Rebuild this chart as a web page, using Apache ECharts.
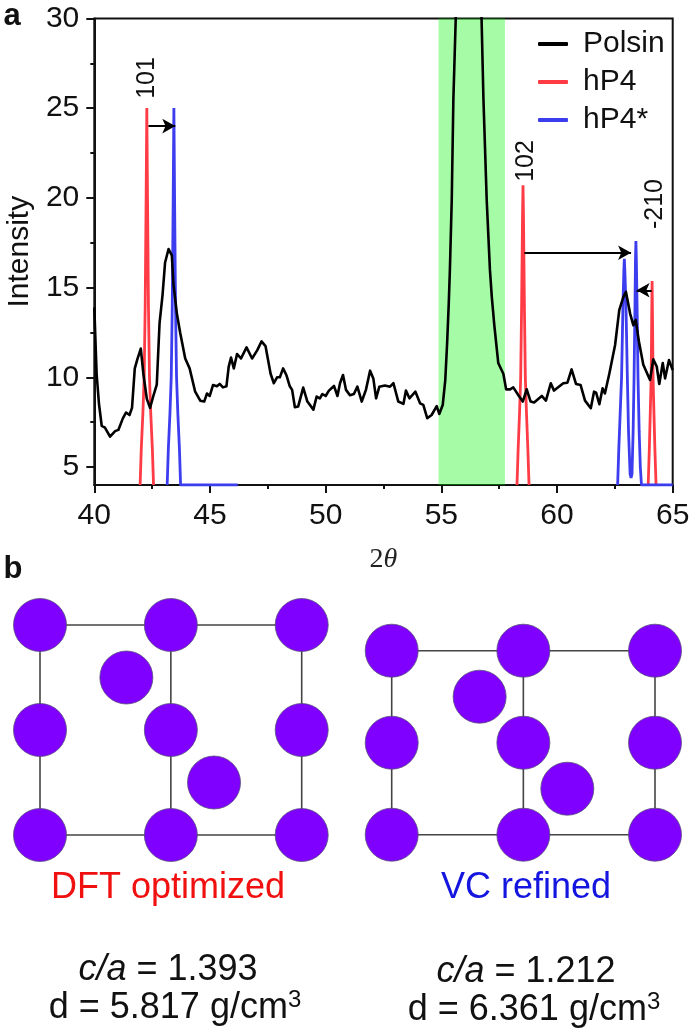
<!DOCTYPE html>
<html><head><meta charset="utf-8">
<style>html,body{margin:0;padding:0;background:#fff}#c{width:691px;height:1034px}</style>
<script src="https://cdn.jsdelivr.net/npm/echarts@6/dist/echarts.min.js"></script>
</head><body><div id="c"></div>
<script>
const polsin=[[40,13.9],[40.1,10.2],[40.2,8.55],[40.32,7.3],[40.46,7.2],[40.68,6.7],[40.9,7],[41.04,7.07],[41.23,7.7],[41.37,8.04],[41.52,7.9],[41.63,8.3],[41.75,10.5],[41.86,11],[42.01,11.6],[42.12,10.2],[42.27,8.8],[42.41,8.3],[42.56,9],[42.7,9.6],[42.82,13],[42.95,14.6],[43.06,16.4],[43.21,17.15],[43.35,16.8],[43.42,15.2],[43.57,13.55],[43.71,12.5],[43.93,11.05],[44.12,10.5],[44.36,9.2],[44.58,8.7],[44.75,8.65],[44.87,9.1],[44.99,8.96],[45.13,9.57],[45.3,9.5],[45.42,9.63],[45.56,9.44],[45.71,9.5],[45.81,10.6],[45.91,11.1],[46.03,10.5],[46.17,11.3],[46.34,11.05],[46.58,11.67],[46.82,11.05],[47.04,11.5],[47.23,12],[47.4,11.74],[47.62,10.2],[47.76,9.67],[47.9,10],[48.02,10],[48.16,10.5],[48.31,10.1],[48.45,9.5],[48.55,9.3],[48.67,8.33],[48.81,8.37],[49.03,9.43],[49.21,8.65],[49.47,8.2],[49.61,8.93],[49.75,8.83],[49.86,9.07],[50,8.96],[50.14,9.26],[50.36,9.52],[50.51,8.96],[50.62,9.67],[50.75,10.13],[50.88,9.3],[51.05,9],[51.22,9.07],[51.37,9.48],[51.56,8.65],[51.74,9.3],[51.92,10.37],[52.06,9.94],[52.18,8.83],[52.32,9.48],[52.56,9.54],[52.78,9.48],[52.93,9.67],[53.14,8.65],[53.36,8.52],[53.47,9.26],[53.62,8.83],[53.88,9.2],[54.08,8.55],[54.22,8.46],[54.39,7.72],[54.58,7.9],[54.8,8.4],[54.91,7.96],[55.06,8.46],[55.17,9.85],[55.25,11.9],[55.32,14.1],[55.37,16],[55.45,19.9],[55.52,25.5],[55.62,29.9],[55.69,33],[56.2,42],[56.67,33],[56.74,29.9],[56.82,25.5],[56.96,19.9],[57.1,16],[57.18,14.5],[57.29,12.9],[57.46,10.8],[57.68,10.2],[57.8,9.33],[57.97,9.33],[58.11,9.44],[58.33,9],[58.52,8.65],[58.69,9.33],[58.86,8.65],[59.01,8.6],[59.34,8.96],[59.52,8.7],[59.73,9.67],[59.87,9.26],[60.27,9.67],[60.45,9.7],[60.63,10.44],[60.82,9.63],[61.02,9.57],[61.21,8.7],[61.46,8.28],[61.6,9.2],[61.69,9.15],[61.83,8.5],[61.97,9.39],[62.07,9.1],[62.26,10.2],[62.51,11.8],[62.69,13.74],[62.87,14.48],[62.98,14.76],[63.16,13.55],[63.3,12.9],[63.4,13.2],[63.54,12],[63.73,10.7],[64.02,9.85],[64.16,11],[64.31,10.6],[64.42,9.63],[64.57,10.8],[64.67,9.94],[64.84,10.96],[65,10.4]];
const hP4=[[41.98,4],[42.03,6],[42.1,8],[42.155,10],[42.2,14],[42.24,20],[42.27,25],[42.3,20],[42.34,14],[42.385,10],[42.44,8],[42.51,6],[42.56,4],null,
 [58.27,4],[58.32,6],[58.38,8],[58.43,10],[58.47,14],[58.51,19],[58.53,20.7],[58.55,19],[58.59,14],[58.63,10],[58.68,8],[58.74,6],[58.79,4],null,
 [63.94,4],[63.99,6],[64.03,8],[64.07,10],[64.09,13],[64.11,15.37],[64.13,13],[64.15,10],[64.19,8],[64.23,6],[64.28,4]];
const hP4s=[[43.15,4],[43.2,6],[43.27,8],[43.325,10],[43.37,14],[43.41,20],[43.44,25],[43.47,20],[43.51,14],[43.555,10],[43.61,8],[43.68,6],[43.73,4],[46.2,4],null,
 [62.62,4],[62.67,6],[62.73,8],[62.79,10],[62.85,14],[62.89,16],[62.91,16.6],[62.93,16],[62.98,14],[63.04,10],[63.09,7],[63.16,4.6],[63.2,4.4],[63.24,4.6],[63.29,7],[63.33,10],[63.37,14],[63.39,16.5],[63.41,17.6],[63.43,16.5],[63.46,14],[63.5,10],[63.55,7],[63.6,5],[63.65,4],[65,4]];
const band=[54.88,57.75];
const arrows=[[[42.34,24],[43.5,24]],[[58.59,16.94],[63.2,16.94]],[[64.09,14.85],[63.44,14.85]]];
const yTicks=[5,10,15,20,25,30];
const yMinor=[7.5,12.5,17.5,22.5,27.5];
const atomsCols=[0,1,2];
const atomsRows=[0,1,2];
const innerLeft=[[0.66,0.5],[1.33,1.5]];
const innerRight=[[0.668,0.5],[1.334,1.5]];
const bonds=[[[0,0],[2,0]],[[0,2],[2,2]],[[0,0],[0,2]],[[1,0],[1,2]],[[2,0],[2,2]]];
const FONT='"Liberation Sans",Arial,sans-serif';

const lattice=[];atomsCols.forEach(c=>atomsRows.forEach(r=>lattice.push([c,r])));
function structure(idx,inner){
  const s=[];
  bonds.forEach(b=>s.push({type:'line',xAxisIndex:idx,yAxisIndex:idx,data:b,showSymbol:false,silent:true,z:3,clip:false,
    lineStyle:{color:'#444',width:1.6}}));
  s.push({type:'scatter',xAxisIndex:idx,yAxisIndex:idx,data:lattice.concat(inner),symbolSize:53,clip:false,z:4,silent:true,
    itemStyle:{color:'#7f00ff',borderColor:'#55507a',borderWidth:0.8,opacity:1}});
  return s;
}
const label=(text,x,y,extra)=>({type:'text',x,y,silent:true,style:Object.assign({text,font:'24px '+FONT,fill:'#111',align:'center',verticalAlign:'middle'},extra||{})});
const vlabel=(text,x,y)=>({type:'text',x,y,rotation:Math.PI/2,silent:true,style:{text,font:'25px '+FONT,fill:'#111',align:'center',verticalAlign:'middle'}});
const noteRich={i:{fontStyle:'italic',fontSize:36,fontFamily:FONT,fill:'#111'},n:{fontSize:36,fontFamily:FONT,fill:'#111'},s:{fontSize:24,fontFamily:FONT,fill:'#111',verticalAlign:'top',lineHeight:40}};
const note=(text,x,y)=>({type:'text',x,y,silent:true,style:{text,rich:noteRich,font:'36px '+FONT,fill:'#111',align:'center',verticalAlign:'middle'}});

const chart=echarts.init(document.getElementById('c'),null,{renderer:'canvas'});
chart.setOption({
  animation:false,backgroundColor:'#fff',
  legend:{data:['Polsin','hP4','hP4*'],orient:'vertical',left:538,top:29,itemWidth:30,itemHeight:4,icon:'roundRect',itemGap:8,
    textStyle:{fontFamily:FONT,fontSize:30,color:'#111',padding:[0,0,0,10]},selectedMode:false,padding:0},
  grid:[
    {left:94.3,top:18.4,width:578.4,height:466.6,outerBoundsMode:'none',show:true,borderColor:'#111',borderWidth:2,backgroundColor:'transparent'},
    {left:40,top:625,width:261.7,height:210,outerBoundsMode:'none'},
    {left:391.7,top:650.7,width:263.3,height:184,outerBoundsMode:'none'}
  ],
  xAxis:[
    {type:'value',gridIndex:0,min:40,max:65,interval:5,splitLine:{show:false},
     axisLine:{show:true,onZero:false,lineStyle:{color:'#111',width:2}},
     axisTick:{length:8,lineStyle:{color:'#111',width:2}},
     minorTick:{show:true,splitNumber:2,length:4,lineStyle:{color:'#111',width:2}},
     axisLabel:{fontFamily:FONT,fontSize:30,color:'#111',margin:16},
     name:'{a|2}{b|θ}',nameLocation:'middle',nameGap:61,
     nameTextStyle:{rich:{a:{fontFamily:'"Liberation Serif",serif',fontSize:28,color:'#222'},b:{fontFamily:'"Liberation Serif",serif',fontStyle:'italic',fontSize:28,color:'#222'}}}},
    {type:'value',gridIndex:1,min:0,max:2,show:false},
    {type:'value',gridIndex:2,min:0,max:2,show:false}
  ],
  yAxis:[
    {type:'value',gridIndex:0,min:4,max:30,splitLine:{show:false},
     axisLine:{show:true,onZero:false,lineStyle:{color:'#111',width:2}},
     axisTick:{show:true,length:8,customValues:yTicks,lineStyle:{color:'#111',width:2}},
     axisLabel:{fontFamily:FONT,fontSize:30,color:'#111',margin:15,customValues:yTicks,formatter:v=>String(v)},
     name:'Intensity',nameLocation:'middle',nameGap:56,nameRotate:90,nameTextStyle:{fontFamily:FONT,fontSize:30,color:'#111'}},
    {type:'value',gridIndex:1,min:0,max:2,inverse:true,show:false},
    {type:'value',gridIndex:2,min:0,max:2,inverse:true,show:false},
    {type:'value',gridIndex:0,min:4,max:30,position:'left',splitLine:{show:false},axisLine:{show:false,onZero:false},
     axisTick:{show:true,length:4,customValues:yMinor,lineStyle:{color:'#111',width:2}},axisLabel:{show:false,customValues:yMinor}}
  ],
  series:[
    {name:'hP4',type:'line',xAxisIndex:0,yAxisIndex:0,data:hP4,connectNulls:false,showSymbol:false,z:2,itemStyle:{color:'#ff3b46'},lineStyle:{color:'#ff3b46',width:2.8}},
    {name:'hP4*',type:'line',xAxisIndex:0,yAxisIndex:0,data:hP4s,connectNulls:false,showSymbol:false,z:2,itemStyle:{color:'#3d3df0'},lineStyle:{color:'#3d3df0',width:2.8}},
    {name:'Polsin',type:'line',xAxisIndex:0,yAxisIndex:0,data:polsin,showSymbol:false,z:3,itemStyle:{color:'#000'},lineStyle:{color:'#000',width:2.6,join:'round'}},
    {name:'band',type:'line',xAxisIndex:0,yAxisIndex:0,data:[],z:5,silent:true,
     markArea:{silent:true,itemStyle:{color:'rgba(0,245,0,0.35)'},data:[[{xAxis:band[0]},{xAxis:band[1]}]]}},
    {name:'arrows',type:'line',xAxisIndex:0,yAxisIndex:0,data:[],z:6,silent:true,
     markLine:{silent:true,symbol:['none','arrow'],symbolSize:[11,13],label:{show:false},animation:false,precision:4,
       lineStyle:{color:'#000',width:2,type:'solid'},
       data:arrows.map(a=>[{coord:a[0]},{coord:a[1]}])}},
    ...structure(1,innerLeft),
    ...structure(2,innerRight)
  ],
  graphic:[
    label('a',12,16,{font:'bold 31px '+FONT,fill:'#111'}),
    label('b',13,569,{font:'bold 31px '+FONT,fill:'#111'}),
    vlabel('101',147.6,78),vlabel('102',525.7,161),vlabel('-210',655,204),
    label('DFT optimized',168,888,{font:'36px '+FONT,fill:'#f01010'}),
    label('VC refined',526,888,{font:'36px '+FONT,fill:'#1515e0'}),
    note('{i|c/a}{n| = 1.393}',168,970),
    note('{n|d = 5.817 g/cm}{s|3}',175,1008),
    note('{i|c/a}{n| = 1.212}',526,972),
    note('{n|d = 6.361 g/cm}{s|3}',534,1010)
  ]
});
</script></body></html>
